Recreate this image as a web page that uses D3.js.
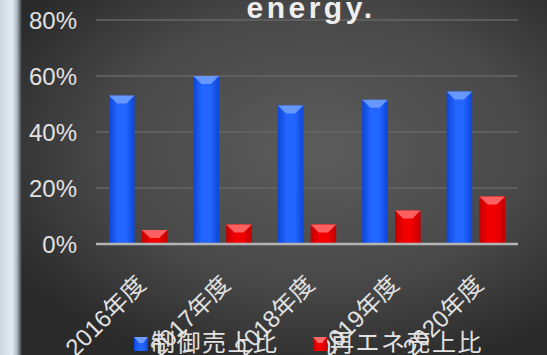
<!DOCTYPE html>
<html>
<head>
<meta charset="utf-8">
<script src="https://cdn.jsdelivr.net/npm/d3@7"></script>
<style>
  body { margin: 0; background: #333; }
  svg { display: block; }
</style>
</head>
<body>
<svg></svg>
<script>
const years = ["2016年度", "2017年度", "2018年度", "2019年度", "2020年度"];
const seriesNames = ["制御売上比", "再エネ売上比"];
const controlShare = [53, 60, 49.5, 51.5, 54.5];
const renewShare = [5, 7, 7, 12, 17];
const yTicks = [0, 20, 40, 60, 80];
const title = "energy.";

const width = 547, height = 355;
const margin = { top: 20, right: 29, bottom: 111, left: 96 };

const svg = d3.select("svg").attr("width", width).attr("height", height);
const defs = svg.append("defs");

// background: dark vignette
const bg = defs.append("radialGradient").attr("id", "bg")
    .attr("cx", "58%").attr("cy", "42%").attr("r", "65%");
bg.append("stop").attr("offset", "0%").attr("stop-color", "#5c5c5c");
bg.append("stop").attr("offset", "60%").attr("stop-color", "#484848");
bg.append("stop").attr("offset", "100%").attr("stop-color", "#2a2a2a");
svg.append("rect").attr("width", width).attr("height", height).attr("fill", "url(#bg)");

// pale strip on the left edge
const strip = defs.append("linearGradient").attr("id", "strip");
strip.append("stop").attr("offset", "0%").attr("stop-color", "#c9d6e2");
strip.append("stop").attr("offset", "55%").attr("stop-color", "#e4ecf3");
strip.append("stop").attr("offset", "78%").attr("stop-color", "#aab5c0");
strip.append("stop").attr("offset", "100%").attr("stop-color", "#2e2e2e");
svg.append("rect").attr("width", 22).attr("height", height).attr("fill", "url(#strip)");

function barGrad(id, edge, mid) {
  const g = defs.append("linearGradient").attr("id", id);
  g.append("stop").attr("offset", "0%").attr("stop-color", edge);
  g.append("stop").attr("offset", "35%").attr("stop-color", mid);
  g.append("stop").attr("offset", "65%").attr("stop-color", mid);
  g.append("stop").attr("offset", "100%").attr("stop-color", edge);
}
barGrad("blue", "#0d45d8", "#2366ff");
barGrad("red", "#c20000", "#f20000");

const x0 = d3.scaleBand()
    .domain(years)
    .range([margin.left, width - margin.right]);

const x1 = d3.scaleBand()
    .domain(seriesNames)
    .range([13, x0.bandwidth() - 13])
    .paddingInner(0.22);

const y = d3.scaleLinear()
    .domain([0, 80])
    .range([height - margin.bottom, margin.top]);

// gridlines
svg.append("g")
  .selectAll("line")
  .data(yTicks.filter(t => t > 0))
  .join("line")
    .attr("x1", margin.left).attr("x2", width - margin.right)
    .attr("y1", d => y(d)).attr("y2", d => y(d))
    .attr("stroke", "#666").attr("stroke-width", 1.5);

// y axis labels
const yAxis = d3.axisLeft(y).tickValues(yTicks).tickFormat(d => d + "%").tickSize(0).tickPadding(19);
svg.append("g")
    .attr("transform", `translate(${margin.left},0)`)
    .call(yAxis)
    .call(g => g.select(".domain").remove())
    .call(g => g.selectAll("text")
        .attr("fill", "#e2e2e2")
        .attr("font-family", "Liberation Sans, Arial, sans-serif")
        .attr("font-size", 24)
        .attr("dy", "0.34em"));

const colors = { "制御売上比": "blue", "再エネ売上比": "red" };
const caps = { "制御売上比": "#6f9dff", "再エネ売上比": "#ff6a6a" };

const rows = years.map((yr, i) => ({ year: yr, values: [
  { key: seriesNames[0], value: controlShare[i] },
  { key: seriesNames[1], value: renewShare[i] }
]}));

const groups = svg.append("g").selectAll("g")
  .data(rows)
  .join("g")
    .attr("transform", d => `translate(${x0(d.year)},0)`);

const bars = groups.selectAll("g")
  .data(d => d.values)
  .join("g");

bars.append("rect")
    .attr("x", d => x1(d.key))
    .attr("y", d => y(d.value))
    .attr("width", x1.bandwidth())
    .attr("height", d => y(0) - y(d.value))
    .attr("fill", d => `url(#${colors[d.key]})`);

// bevelled top of each bar
bars.append("path")
    .attr("d", d => {
      const bx = x1(d.key), bw = x1.bandwidth(), ty = y(d.value);
      return `M${bx},${ty} L${bx + bw},${ty} L${bx + bw * 0.68},${ty + 8} L${bx + bw * 0.32},${ty + 8} Z`;
    })
    .attr("fill", d => caps[d.key])
    .attr("opacity", 0.9);

// baseline
svg.append("line")
    .attr("x1", margin.left).attr("x2", width - margin.right)
    .attr("y1", y(0)).attr("y2", y(0))
    .attr("stroke", "#b4b4b4").attr("stroke-width", 2.5);

// x labels
svg.append("g")
  .selectAll("text")
  .data(years)
  .join("text")
    .attr("transform", d => `translate(${x0(d) + x0.bandwidth() / 2 + 9},${y(0) + 42}) rotate(-45)`)
    .attr("text-anchor", "end")
    .attr("fill", "#e2e2e2")
    .attr("font-family", "Liberation Sans, 'Noto Sans CJK JP', sans-serif")
    .attr("font-size", 24)
    .text(d => d);

// title
svg.append("text")
    .attr("x", 311).attr("y", 18)
    .attr("text-anchor", "middle")
    .attr("fill", "#eeeeee")
    .attr("font-family", "Liberation Sans, Arial, sans-serif")
    .attr("font-weight", "bold")
    .attr("font-size", 30)
    .attr("letter-spacing", 3.5)
    .text(title);

// legend
const legendX = [134, 313];
const legend = svg.append("g").selectAll("g")
  .data(seriesNames)
  .join("g")
    .attr("transform", (d, i) => `translate(${legendX[i]},337)`);
legend.append("rect")
    .attr("width", 14).attr("height", 14)
    .attr("fill", d => `url(#${colors[d]})`);
legend.append("path")
    .attr("d", "M0,0 L14,0 L9,6 L5,6 Z")
    .attr("fill", d => caps[d]);
legend.append("text")
    .attr("x", 17).attr("y", 14)
    .attr("fill", "#e2e2e2")
    .attr("font-family", "'Noto Sans CJK JP', sans-serif")
    .attr("font-size", 24)
    .attr("letter-spacing", 1.5)
    .text(d => d);
</script>
</body>
</html>
